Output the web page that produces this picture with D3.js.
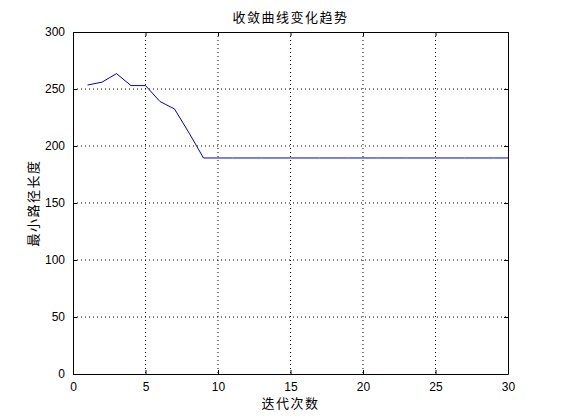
<!DOCTYPE html>
<html>
<head>
<meta charset="utf-8">
<script src="https://cdn.jsdelivr.net/npm/d3@7"></script>
<style>
  body { margin: 0; background: #fff; }
  svg text { font-family: "Liberation Sans", Arial, sans-serif; }
  .cjk { font-family: "Noto Sans CJK SC", sans-serif; letter-spacing: 1.5px; }
</style>
</head>
<body>
<div id="chart"></div>
<script>
// data
const iterations = d3.range(1, 31);
const pathLength = [253.5, 256, 263.5, 253, 253, 239, 232.5, 211.5, 189.5, 189.5,
                    189.5, 189.5, 189.5, 189.5, 189.5, 189.5, 189.5, 189.5, 189.5, 189.5,
                    189.5, 189.5, 189.5, 189.5, 189.5, 189.5, 189.5, 189.5, 189.5, 189.5];
const xTicks = [0, 5, 10, 15, 20, 25, 30];
const yTicks = [0, 50, 100, 150, 200, 250, 300];

const W = 561, H = 420;
const margin = { top: 32, right: 53, bottom: 46, left: 73 };
const width = W - margin.left - margin.right,
      height = H - margin.top - margin.bottom;

const svg = d3.select("#chart").append("svg")
    .attr("width", W)
    .attr("height", H);

const g = svg.append("g")
    .attr("transform", `translate(${margin.left},${margin.top})`);

const x = d3.scaleLinear().domain([0, 30]).range([0, width]);
const y = d3.scaleLinear().domain([0, 300]).range([height, 0]);

// grid
g.append("g").selectAll("line")
    .data(xTicks.slice(1, -1))
    .enter().append("line")
    .attr("x1", d => x(d)).attr("x2", d => x(d))
    .attr("y1", 0).attr("y2", height)
    .attr("stroke", "#000").attr("stroke-dasharray", "1,3");

g.append("g").selectAll("line")
    .data(yTicks.slice(1, -1))
    .enter().append("line")
    .attr("y1", d => y(d)).attr("y2", d => y(d))
    .attr("x1", 0).attr("x2", width)
    .attr("stroke", "#000").attr("stroke-dasharray", "1,3");

// axes
g.append("g")
    .attr("transform", `translate(0,${height})`)
    .call(d3.axisBottom(x).tickValues(xTicks).tickSizeInner(-4).tickSizeOuter(0).tickPadding(8));
g.append("g")
    .call(d3.axisLeft(y).tickValues(yTicks).tickSizeInner(-4).tickSizeOuter(0).tickPadding(8));
g.append("g")
    .call(d3.axisTop(x).tickValues(xTicks).tickSizeInner(-4).tickSizeOuter(0).tickFormat(""));
g.append("g")
    .attr("transform", `translate(${width},0)`)
    .call(d3.axisRight(y).tickValues(yTicks).tickSizeInner(-4).tickSizeOuter(0).tickFormat(""));

svg.selectAll(".domain").attr("stroke", "#000");
svg.selectAll(".tick line").attr("stroke", "#000");
svg.selectAll(".tick text").style("font-size", "12px").attr("fill", "#000");

// line
const line = d3.line()
    .x((d, i) => x(iterations[i]))
    .y(d => y(d));

g.append("path")
    .datum(pathLength)
    .attr("fill", "none")
    .attr("stroke", "#0000d0")
    .attr("stroke-width", 1)
    .attr("d", line);

// labels
svg.append("text")
    .attr("class", "cjk")
    .attr("x", margin.left + width / 2)
    .attr("y", 22)
    .attr("text-anchor", "middle")
    .style("font-size", "13px")
    .text("收敛曲线变化趋势");

svg.append("text")
    .attr("class", "cjk")
    .attr("x", margin.left + width / 2)
    .attr("y", 408)
    .attr("text-anchor", "middle")
    .style("font-size", "13px")
    .text("迭代次数");

svg.append("text")
    .attr("class", "cjk")
    .attr("transform", `translate(38,${margin.top + height / 2}) rotate(-90)`)
    .attr("text-anchor", "middle")
    .style("font-size", "13px")
    .text("最小路径长度");
</script>
</body>
</html>
